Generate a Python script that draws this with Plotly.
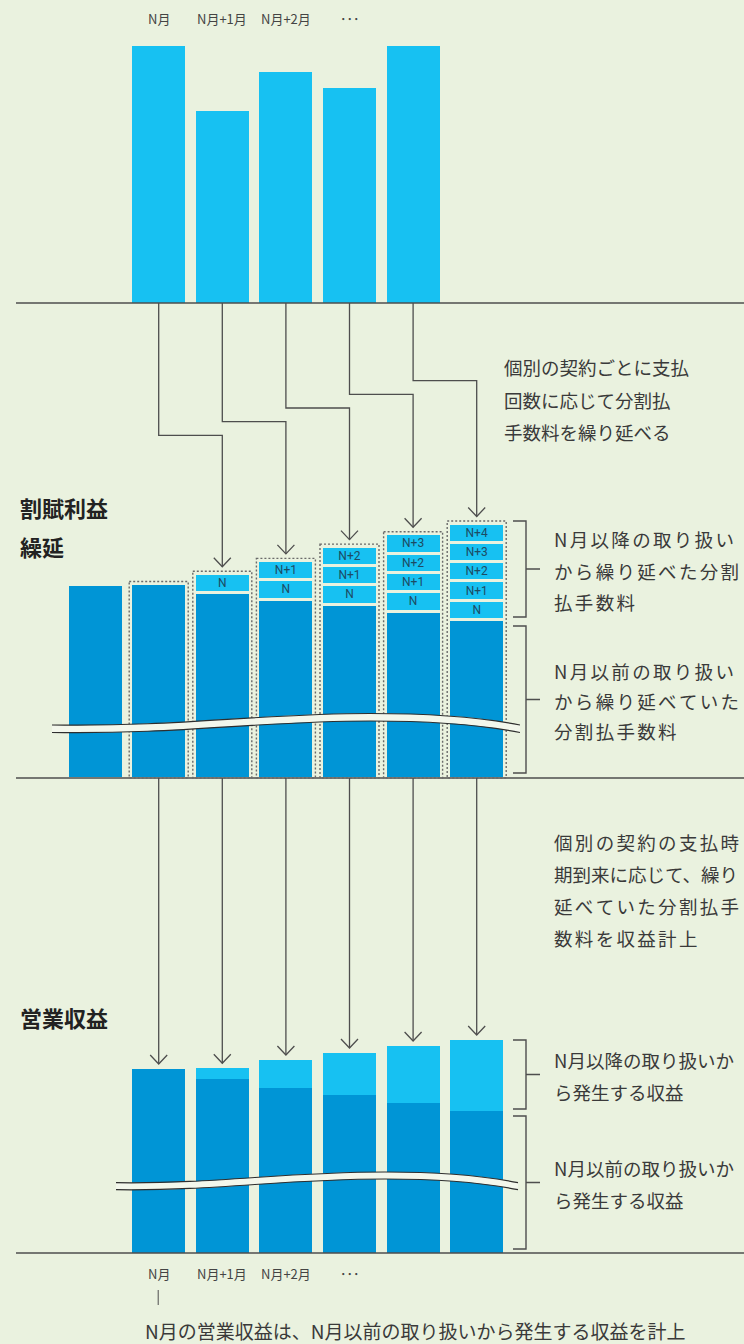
import plotly.graph_objects as go

# ---------------- data ----------------
month_labels = ["N月", "N月+1月", "N月+2月", "･･･"]

handled_x = [0, 1, 2, 3, 4]
handled_fee = [100, 74.7, 89.9, 83.7, 100]          # 取扱高に対する分割払手数料 (relative)

deferred_x = [-1, 0, 1, 2, 3, 4, 5]
deferred_prior = [193.5, 194.5, 185.5, 179, 174, 167, 158.5]   # N月以前から繰り延べていた分
segment_labels = ["N", "N+1", "N+2", "N+3", "N+4"]
segment_size = 19.3                                   # 月ごとの繰延分

revenue_x = [0, 1, 2, 3, 4, 5]
revenue_prior = [184, 174, 165, 158, 150, 142]        # N月以前の取り扱いから発生する収益
revenue_new = [0, 10.7, 28, 42, 57, 71]               # N月以降の取り扱いから発生する収益

# ---------------- style ----------------
BG = "#EAF2DF"
LIGHT = "#17C1F2"
DARK = "#0095D6"
INK = "#3A3A3A"
LINE = "#4E4E4E"
FONT = "Noto Sans CJK JP"

W, H = 744, 1344
PITCH, X0PX = 63.6, 158.7
x_lo = -X0PX / PITCH
x_hi = x_lo + W / PITCH

TOP_BASE, TOP_TOP, TOP_MAX = 303, 46, 100
MID_BASE, MID_TOP, MID_MAX = 778, 518, 260
BOT_BASE, BOT_TOP, BOT_MAX = 1253, 1023, 230


def px_x(i):
    return X0PX + PITCH * i


def paper_y(p):
    return 1 - p / H


def py(base, top, vmax, v):
    return base - (base - top) * v / vmax


fig = go.Figure()

# top panel
fig.add_trace(go.Bar(x=handled_x, y=handled_fee, width=53 / PITCH,
                     marker=dict(color=LIGHT, line=dict(width=0)),
                     xaxis="x", yaxis="y", hoverinfo="skip"))

# middle panel
fig.add_trace(go.Bar(x=deferred_x, y=deferred_prior, width=56 / PITCH,
                     marker=dict(color=DARK, line=dict(color=BG, width=3)),
                     xaxis="x2", yaxis="y2", hoverinfo="skip"))
for k, lab in enumerate(segment_labels):
    xs = [i for i in deferred_x if i >= 1 and i > k]
    fig.add_trace(go.Bar(x=xs, y=[segment_size] * len(xs), width=56 / PITCH,
                         text=[lab] * len(xs), textposition="inside",
                         insidetextanchor="middle", textangle=0, constraintext="none",
                         textfont=dict(size=12, color="#1D4B63", family="Roboto"),
                         marker=dict(color=LIGHT, line=dict(color=BG, width=3)),
                         xaxis="x2", yaxis="y2", hoverinfo="skip"))

# bottom panel
fig.add_trace(go.Bar(x=revenue_x, y=revenue_prior, width=53 / PITCH,
                     marker=dict(color=DARK, line=dict(width=0)),
                     xaxis="x3", yaxis="y3", hoverinfo="skip"))
fig.add_trace(go.Bar(x=revenue_x, y=revenue_new, width=53 / PITCH,
                     marker=dict(color=LIGHT, line=dict(width=0)),
                     xaxis="x3", yaxis="y3", hoverinfo="skip"))

shapes = []


def sh(**kw):
    d = dict(xref="x4", yref="y4", layer="above")
    d.update(kw)
    shapes.append(d)


# baselines
for b in (TOP_BASE, MID_BASE, BOT_BASE):
    sh(type="line", x0=16, x1=W, y0=b, y1=b, line=dict(color=LINE, width=1.3))


def mid_total(xi):
    idx = deferred_x.index(xi)
    return deferred_prior[idx] + max(xi, 0) * segment_size


def box_top(xi):
    return py(MID_BASE, MID_TOP, MID_MAX, mid_total(xi)) - 2


# dotted boxes around deferred stacks
for xi in deferred_x:
    if xi < 0:
        continue
    c = px_x(xi)
    sh(type="rect", x0=c - 29.5, x1=c + 29.5, y0=box_top(xi), y1=MID_BASE,
       line=dict(color="#6A6A6A", width=1.4, dash="2px,2px"), fillcolor="rgba(0,0,0,0)")


def head(x, y):
    return f"M {x-8.5},{y-9} L {x},{y} L {x+8.5},{y-9}"


# arrows top -> middle
for i, xi in enumerate(handled_x):
    xs = px_x(xi)
    xe = px_x(xi + 1)
    yh = 435.3 - 13.65 * i
    tip = box_top(xi + 1) - 4.5
    sh(type="path", path=f"M {xs},{TOP_BASE} L {xs},{yh} L {xe},{yh} L {xe},{tip}",
       line=dict(color=LINE, width=1.3))
    sh(type="path", path=head(xe, tip), line=dict(color=LINE, width=1.3))

# arrows middle -> bottom
for i, xi in enumerate(revenue_x):
    x = px_x(xi)
    tip = py(BOT_BASE, BOT_TOP, BOT_MAX, revenue_prior[i] + revenue_new[i]) - 5
    sh(type="path", path=f"M {x},{MID_BASE} L {x},{tip}", line=dict(color=LINE, width=1.3))
    sh(type="path", path=head(x, tip), line=dict(color=LINE, width=1.3))


# wave breaks
def wave(p0, c1, c2, p1, c3, c4, p2, th):
    def s(p, d=0):
        return f"{p[0]},{p[1]+d}"
    up = f"M {s(p0)} C {s(c1)} {s(c2)} {s(p1)} C {s(c3)} {s(c4)} {s(p2)}"
    lo = f"M {s(p0, th)} C {s(c1, th)} {s(c2, th)} {s(p1, th)} C {s(c3, th)} {s(c4, th)} {s(p2, th)}"
    band = (f"M {s(p0)} C {s(c1)} {s(c2)} {s(p1)} C {s(c3)} {s(c4)} {s(p2)} "
            f"L {s(p2, th)} C {s(c4, th)} {s(c3, th)} {s(p1, th)} C {s(c2, th)} {s(c1, th)} {s(p0, th)} Z")
    sh(type="path", path=band, fillcolor="#F3F7EC", line=dict(width=0))
    sh(type="path", path=up, line=dict(color="#2E2E2E", width=1.2))
    sh(type="path", path=lo, line=dict(color="#2E2E2E", width=1.2))


wave((52, 725), (180, 727), (260, 713.5), (370, 713.5), (450, 713.5), (490, 719), (520, 725), 7.5)
wave((116, 1182.7), (220, 1184), (280, 1172), (385, 1172), (450, 1172), (490, 1177), (518, 1182.7), 7)


# brackets
def bracket(y0, y1, x=526):
    ym = (y0 + y1) / 2
    sh(type="path", path=f"M 513,{y0} L {x},{y0} L {x},{y1} L 513,{y1} M {x},{ym} L 540,{ym}",
       line=dict(color=LINE, width=1.4))
    return ym


mid_dark_top6 = py(MID_BASE, MID_TOP, MID_MAX, deferred_prior[-1]) + 1.5
bracket(box_top(5), mid_dark_top6 - 4)
bracket(mid_dark_top6 + 5, MID_BASE - 5)
bot_top5 = py(BOT_BASE, BOT_TOP, BOT_MAX, revenue_prior[-1] + revenue_new[-1])
bot_dark5 = py(BOT_BASE, BOT_TOP, BOT_MAX, revenue_prior[-1])
bracket(bot_top5, bot_dark5 - 2)
bracket(bot_dark5 + 5, BOT_BASE - 4)

# small tick below N月
sh(type="line", x0=px_x(0) - 0.5, x1=px_x(0) - 0.5, y0=1290, y1=1305, line=dict(color=LINE, width=1))

annotations = []


def txt(s, x, y, size=18.5, anchor="left", color=INK, bold=False):
    annotations.append(dict(text=s, x=x, y=y, xref="x4", yref="y4", showarrow=False,
                            xanchor=anchor, yanchor="middle",
                            font=dict(family=FONT, size=size, color=color,
                                      weight=700 if bold else 400)))


def track(s):
    return "\u200a\u200a".join(s)


# month labels
for i, lab in enumerate(month_labels):
    txt(lab, px_x(i), 18, size=13, anchor="center", color="#444444")
    txt(lab, px_x(i), 1273, size=13, anchor="center", color="#444444")

txt("割賦利益", 18, 507, size=22, color="#222222", bold=True)
txt("繰延", 18, 546, size=22, color="#222222", bold=True)
txt("営業収益", 18, 1017, size=22, color="#222222", bold=True)

for j, s in enumerate(["個別の契約ごとに支払", "回数に応じて分割払", "手数料を繰り延べる"]):
    txt(s, 502, 367 + 32.5 * j)

for j, s in enumerate(["N月以降の取り扱い", "から繰り延べた分割", "払手数料"]):
    txt(track(s), 552, 539 + 31.5 * j)
for j, s in enumerate(["N月以前の取り扱い", "から繰り延べていた", "分割払手数料"]):
    txt(track(s), 552, 671 + 30 * j)
for j, s in enumerate(["個別の契約の支払時", "期到来に応じて、繰り", "延べていた分割払手", "数料を収益計上"]):
    txt(s if "、" in s else track(s), 552, 842 + 32 * j)

for j, s in enumerate(["N月以降の取り扱いか", "ら発生する収益"]):
    txt(s, 552, 1060 + 32 * j)
for j, s in enumerate(["N月以前の取り扱いか", "ら発生する収益"]):
    txt(s, 552, 1168 + 32 * j)

txt("N月の営業収益は、N月以前の取り扱いから発生する収益を計上", 143, 1330, size=19)

ax = dict(visible=False, showgrid=False, zeroline=False, fixedrange=True)
fig.update_layout(
    width=W, height=H, autosize=False,
    margin=dict(l=0, r=0, t=0, b=0),
    paper_bgcolor=BG, plot_bgcolor="rgba(0,0,0,0)",
    barmode="stack", showlegend=False,
    xaxis=dict(range=[x_lo, x_hi], domain=[0, 1], anchor="y", **ax),
    yaxis=dict(range=[0, TOP_MAX], domain=[paper_y(TOP_BASE), paper_y(TOP_TOP)], anchor="x", **ax),
    xaxis2=dict(range=[x_lo, x_hi], domain=[0, 1], anchor="y2", **ax),
    yaxis2=dict(range=[0, MID_MAX], domain=[paper_y(MID_BASE), paper_y(MID_TOP)], anchor="x2", **ax),
    xaxis3=dict(range=[x_lo, x_hi], domain=[0, 1], anchor="y3", **ax),
    yaxis3=dict(range=[0, BOT_MAX], domain=[paper_y(BOT_BASE), paper_y(BOT_TOP)], anchor="x3", **ax),
    xaxis4=dict(range=[0, W], domain=[0, 1], anchor="y4", **ax),
    yaxis4=dict(range=[H, 0], domain=[0, 1], anchor="x4", **ax),
    shapes=shapes, annotations=annotations,
)

fig.write_html("out.html", config=dict(displayModeBar=False),
               post_script="document.body.style.margin='0';document.body.style.overflow='hidden';")
